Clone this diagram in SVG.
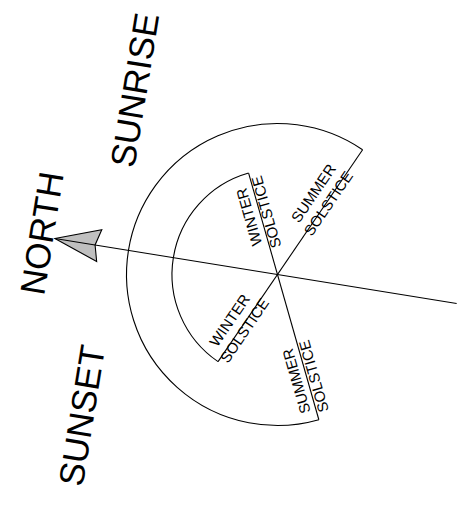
<svg xmlns="http://www.w3.org/2000/svg" width="473" height="509" viewBox="0 0 473 509">
<style>
.ln{fill:none;stroke:#000;stroke-width:1.1}
.big{font-family:"Liberation Sans",Arial,sans-serif;font-size:35px;fill:#000;text-anchor:middle}
.sm{font-family:"Liberation Sans",Arial,sans-serif;font-size:15px;fill:#000;text-anchor:middle}
</style>
<rect width="473" height="509" fill="#fff"/>
<g transform="rotate(9.2 277.5 274.5)">
  <g id="outer-arc"><path class="ln" d="M341.55 137.75 A151 151 0 1 0 341.55 411.25"/></g>
  <g id="inner-arc"><path class="ln" d="M232.75 178.96 A105.5 105.5 0 0 0 232.75 370.04"/></g>
  <g id="connectors">
    <path class="ln" d="M341.55 137.75 L232.75 370.04"/>
    <path class="ln" d="M232.75 178.96 L341.55 411.25"/>
  </g>
  <g id="north-arrow">
    <polygon points="52,274.5 96.9,258.5 92.7,274.5 96.9,290.5" fill="#c0c0c0" stroke="#000" stroke-width="1.1" stroke-linejoin="miter"/>
    <path class="ln" d="M52 274.5 L459 274.5"/>
  </g>
  <g id="label-north"><text class="big" transform="translate(50.4 271.5) rotate(-90)">NORTH</text></g>
  <g id="label-sunrise"><text class="big" transform="translate(119.3 115.3) rotate(-90)">SUNRISE</text></g>
  <g id="label-sunset"><text class="big" transform="translate(119 445) rotate(-90)">SUNSET</text></g>
  <g id="label-winter-sunrise"><text class="sm" transform="translate(248.2 218.5) rotate(-115.1)"><tspan x="0" y="-3.6">WINTER</tspan><tspan x="0" y="14.4">SOLSTICE</tspan></text></g>
  <g id="label-summer-sunset"><text class="sm" transform="translate(321.3 373) rotate(-115.1)"><tspan x="0" y="-3.6">SUMMER</tspan><tspan x="0" y="14.4">SOLSTICE</tspan></text></g>
  <g id="label-summer-sunrise"><text class="sm" transform="translate(308 192.3) rotate(-64.9)"><tspan x="0" y="-3.6">SUMMER</tspan><tspan x="0" y="14.4">SOLSTICE</tspan></text></g>
  <g id="label-winter-sunset"><text class="sm" transform="translate(245.6 331.1) rotate(-64.9)"><tspan x="0" y="-3.6">WINTER</tspan><tspan x="0" y="14.4">SOLSTICE</tspan></text></g>
</g>
</svg>
